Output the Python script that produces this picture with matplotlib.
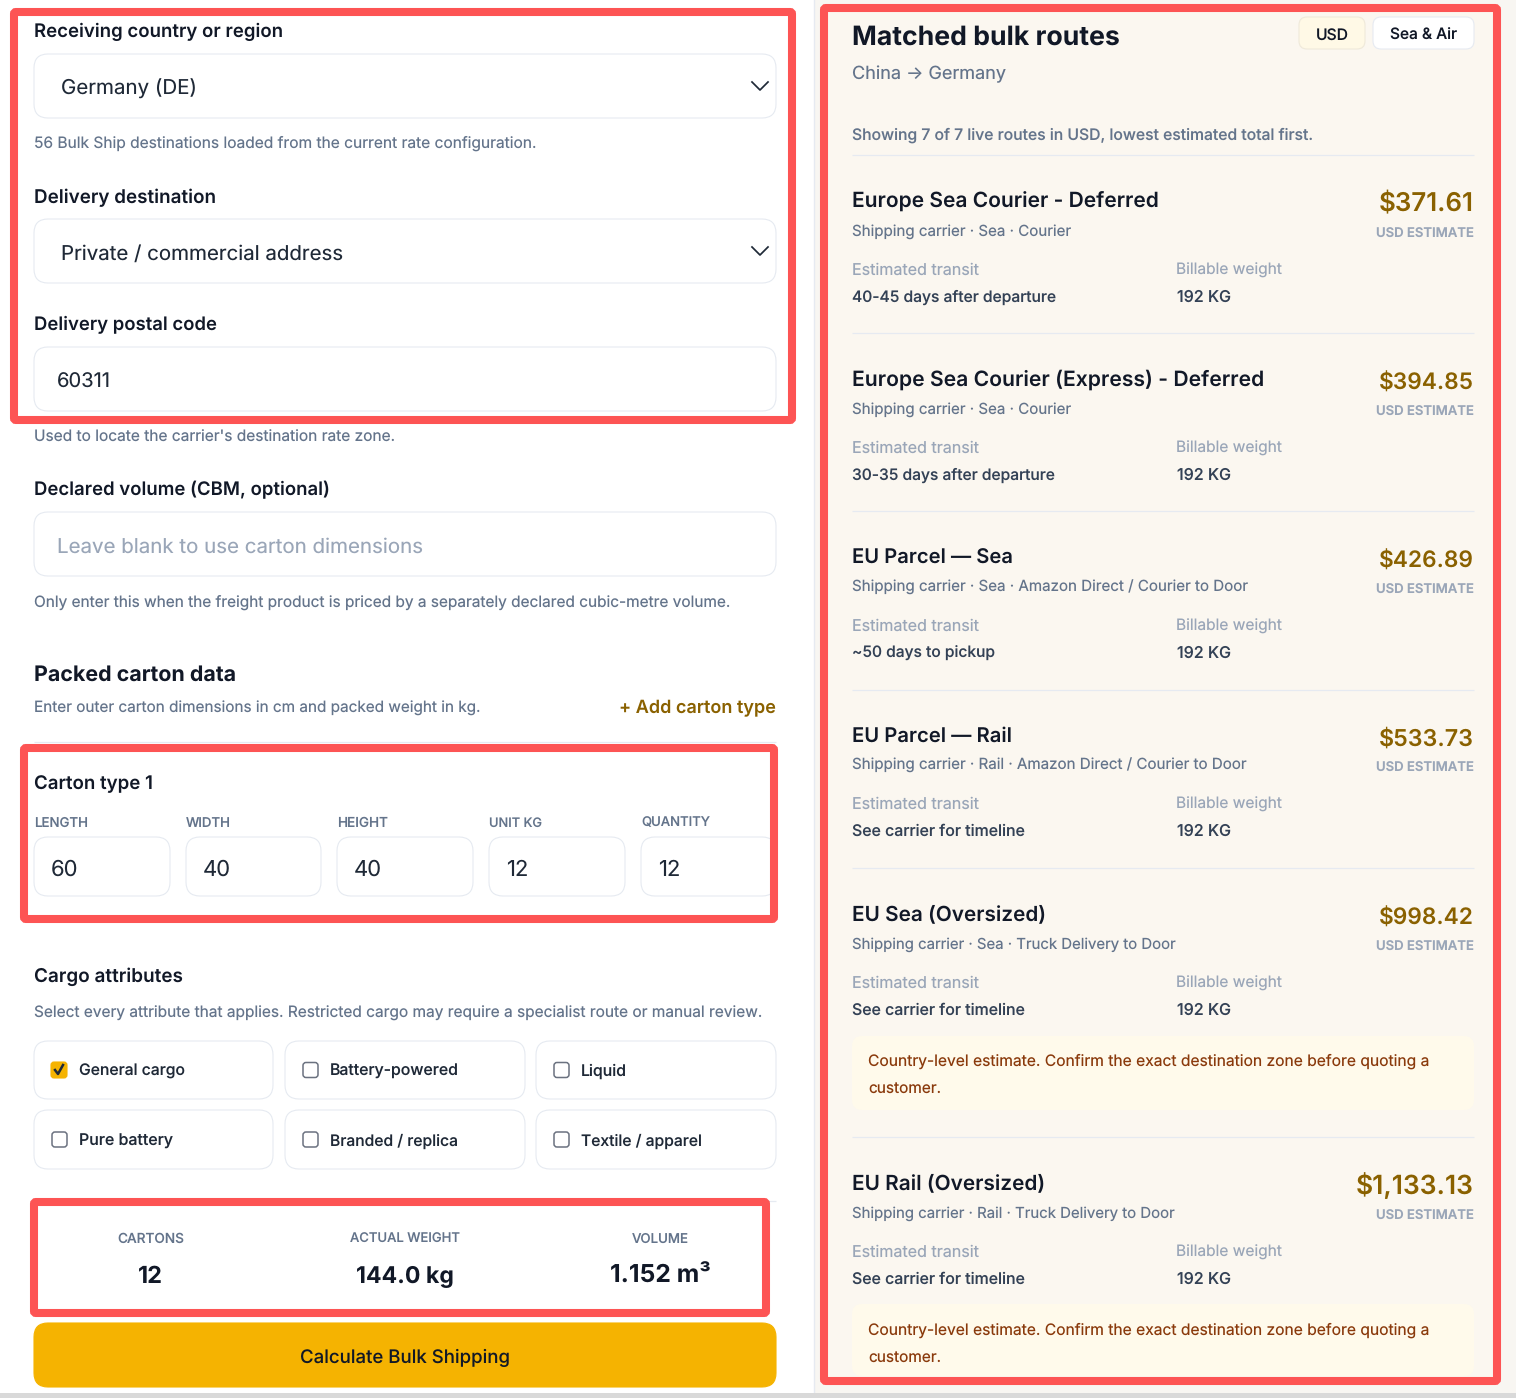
#!/usr/bin/python3
import matplotlib
matplotlib.use("Agg")
import matplotlib.pyplot as plt
from matplotlib.patches import FancyBboxPatch, Rectangle

plt.rcParams['font.family'] = ['Inter', 'DejaVu Sans']
plt.rcParams['text.hinting'] = 'none'

W, H = 1516, 1398

# colours
INK = "#111827"
SLATE = "#64748b"
SOFT = "#9aa6b8"
DARK = "#334155"
LINE = "#e6eaf1"
GOLD = "#8a6100"
RED = "#fd5454"
CREAM = "#fbf7f0"
NOTE_BG = "#fffaeb"
NOTE_FG = "#8a3a0c"

# left form
field_labels = ["Receiving country or region", "Delivery destination", "Delivery postal code"]
field_values = ["Germany (DE)", "Private / commercial address", "60311"]
carton_heads = ["LENGTH", "WIDTH", "HEIGHT", "UNIT KG", "QUANTITY"]
carton_values = ["60", "40", "40", "12", "12"]
attrs = ["General cargo", "Battery-powered", "Liquid", "Pure battery", "Branded / replica", "Textile / apparel"]
attrs_checked = [True, False, False, False, False, False]
stat_heads = ["CARTONS", "ACTUAL WEIGHT", "VOLUME"]
stat_values = ["12", "144.0 kg", "1.152 m³"]

# right routes
route_names = ["Europe Sea Courier - Deferred", "Europe Sea Courier (Express) - Deferred", "EU Parcel — Sea",
               "EU Parcel — Rail", "EU Sea (Oversized)", "EU Rail (Oversized)"]
route_prices = ["$371.61", "$394.85", "$426.89", "$533.73", "$998.42", "$1,133.13"]
route_modes = ["Shipping carrier · Sea · Courier", "Shipping carrier · Sea · Courier",
               "Shipping carrier · Sea · Amazon Direct / Courier to Door",
               "Shipping carrier · Rail · Amazon Direct / Courier to Door",
               "Shipping carrier · Sea · Truck Delivery to Door",
               "Shipping carrier · Rail · Truck Delivery to Door"]
route_transit = ["40-45 days after departure", "30-35 days after departure", "~50 days to pickup",
                 "See carrier for timeline", "See carrier for timeline", "See carrier for timeline"]
route_weight = ["192 KG"] * 6
route_notes = [False, False, False, False, True, True]
note_text = ["Country-level estimate. Confirm the exact destination zone before quoting a", "customer."]

fig = plt.figure(figsize=(W / 100, H / 100), dpi=100)
ax = fig.add_axes([0, 0, 1, 1])
ax.set_xlim(0, W)
ax.set_ylim(H, 0)
ax.axis("off")
renderer = fig.canvas.get_renderer()


def txt(x, y, s, px, color=INK, weight="normal", ha="left", w=None, z=5):
    # px is the css font size, y the baseline, w the width seen in the screenshot
    t = ax.text(x, y + 0.6, s, fontsize=px * 0.72, color=color, fontweight=weight, ha=ha, va="baseline", zorder=z)
    if w:
        t.set_fontsize(px * 0.72 * w / t.get_window_extent(renderer).width)
    return t


def box(x0, y0, x1, y1, r=14, fc="white", ec=LINE, lw=0.8, z=2):
    p = FancyBboxPatch((x0, y0), x1 - x0, y1 - y0, boxstyle="round,pad=0,rounding_size=%g" % r,
                       fc=fc, ec=ec, lw=lw, zorder=z)
    ax.add_patch(p)


def hline(x0, x1, y, color=LINE):
    ax.plot([x0, x1], [y, y], color=color, lw=0.9, zorder=3, solid_capstyle="butt")


def chevron(y):
    ax.plot([752, 760, 768], [y - 4, y + 4, y - 4], color="#1f2937", lw=1.25, zorder=4)


def frame(x0, y0, x1, y1):
    box(x0 + 4, y0 + 4, x1 - 4, y1 - 4, r=2, fc="none", ec=RED, lw=5.8, z=8)


# backgrounds
ax.add_patch(Rectangle((814, 0), W - 814, H, fc="#f8f6f2", ec="none", zorder=0))
ax.add_patch(Rectangle((828, 12), 665, 1365, fc=CREAM, ec="none", zorder=0.5))
ax.plot([814, 814], [0, H], color=LINE, lw=1, zorder=1)
ax.add_patch(Rectangle((0, 1393), W, 5, fc="#d9d9d9", ec="none", zorder=9))

# form fields
field_boxes = [(54, 118), (219, 283), (347, 411)]
field_label_y = [36, 202, 330]
field_value_y = [94, 259, 387]
field_value_x = [61, 61, 57]
field_label_w = [249, 182, 183]
field_value_w = [136, 282, 54]
for i in range(3):
    txt(34, field_label_y[i], field_labels[i], 18, weight=600, w=field_label_w[i])
    box(34, field_boxes[i][0], 776, field_boxes[i][1])
    txt(field_value_x[i], field_value_y[i], field_values[i], 22, color="#1f2937", w=field_value_w[i])
chevron(86)
chevron(251)
txt(34, 147, "56 Bulk Ship destinations loaded from the current rate configuration.", 16, SLATE, w=503)
txt(34, 441, "Used to locate the carrier's destination rate zone.", 16, SLATE, w=361)

txt(34, 495, "Declared volume (CBM, optional)", 18, weight=600, w=296)
box(34, 512, 776, 576)
txt(57, 552, "Leave blank to use carton dimensions", 22, SOFT, w=366)
txt(34, 606, "Only enter this when the freight product is priced by a separately declared cubic-metre volume.", 16, SLATE, w=696)

txt(34, 680, "Packed carton data", 22, weight=700, w=202)
txt(34, 712, "Enter outer carton dimensions in cm and packed weight in kg.", 16, SLATE, w=447)
txt(776, 713, "+ Add carton type", 18, GOLD, weight=600, ha="right", w=157)
hline(34, 776, 742)

# carton row
txt(34, 789, "Carton type 1", 18, weight=600, w=119)
carton_x = [34, 186, 337, 489, 641]
carton_r = [170, 321, 473, 625, 776]
carton_head_w = [54, 45, 51, 53, 69]
for i in range(5):
    txt(carton_x[i], 826, carton_heads[i], 13, SLATE, weight=500, w=carton_head_w[i])
    box(carton_x[i], 837, carton_r[i], 896)
    txt(carton_x[i] + 17, 875, carton_values[i], 22, "#1f2937")

# attributes
txt(34, 981, "Cargo attributes", 18, weight=600, w=149)
txt(34, 1017, "Select every attribute that applies. Restricted cargo may require a specialist route or manual review.", 16, SLATE, w=728)
attr_x = [(34, 273), (285, 525), (536, 776)]
attr_y = [(1041, 1099), (1110, 1169)]
attr_base = [1075, 1145]
attr_w = [106, 129, 46, 94, 128, 121]
for i, name in enumerate(attrs):
    x0, x1 = attr_x[i % 3]
    y0, y1 = attr_y[i // 3]
    box(x0, y0, x1, y1)
    cy = (y0 + y1) / 2
    if attrs_checked[i]:
        box(x0 + 17, cy - 8, x0 + 33, cy + 8, r=3, fc="#f5b301", ec="#f5b301", z=3)
        ax.plot([x0 + 21, x0 + 24, x0 + 29], [cy, cy + 4, cy - 5], color="#1f2937", lw=1.8, zorder=4)
    else:
        box(x0 + 18, cy - 7.5, x0 + 33, cy + 7.5, r=3, fc="white", ec="#6b7280", lw=1.1, z=3)
    txt(x0 + 45, attr_base[i // 3], name, 16.5, "#1f2937", weight=500, w=attr_w[i])

# totals
hline(34, 776, 1201)
stat_x = [150.5, 405, 660]
stat_head_w = [67, 110, 57]
stat_value_w = [25, 98, 101]
for i in range(3):
    txt(stat_x[i], 1242, stat_heads[i], 13, SLATE, weight=500, ha="center", w=stat_head_w[i])
    txt(stat_x[i], 1282, stat_values[i], 25, INK, weight=700, ha="center", w=stat_value_w[i])

box(34, 1323, 776, 1387, r=14, fc="#f5b301", ec="#f5b301")
txt(405, 1362, "Calculate Bulk Shipping", 19, INK, weight=500, ha="center", w=210)

# right panel header
txt(852, 44, "Matched bulk routes", 27, INK, weight=700, w=268)
txt(852, 79, "China → Germany", 19, SLATE, w=154)
box(1299, 17, 1365, 49, r=8, fc="#fff9e6", ec="#efe9da")
txt(1332, 39, "USD", 16, INK, weight=500, ha="center", w=33)
box(1373, 17, 1474, 49, r=8, fc="white", ec=LINE)
txt(1423.5, 39, "Sea & Air", 16, INK, weight=500, ha="center", w=67)
txt(852, 139, "Showing 7 of 7 live routes in USD, lowest estimated total first.", 17, SLATE, weight=500, w=461)
hline(852, 1474, 155)

# cards
card_top = [200, 378, 556, 734, 913, 1182]
card_rule = [333, 511, 690, 868, 1137]
note_box = {4: (1036, 1110), 5: (1304, 1376)}
note_base = {4: (1065, 1092), 5: (1334, 1361)}
name_w = [307, 412, 161, 160, 194, 193]
mode_w = [219, 219, 396, 395, 324, 323]
price_w = [95, 95, 95, 95, 95, 118]
transit_w = [204, 203, 143, 173, 173, 173]
for i in range(6):
    t = card_top[i]
    txt(852, t + 7, route_names[i], 22, INK, weight=600, w=name_w[i])
    txt(852, t + 35, route_modes[i], 16, SLATE, w=mode_w[i])
    txt(1474, t + 11, route_prices[i], 25, GOLD, weight=600, ha="right", w=price_w[i])
    txt(1474, t + 37, "USD ESTIMATE", 13, SOFT, weight=600, ha="right", w=98)
    txt(852, t + 74, "Estimated transit", 16, SOFT, w=127)
    txt(1176, t + 74, "Billable weight", 16, SOFT, w=106)
    txt(852, t + 101, route_transit[i], 16, DARK, weight=500, w=transit_w[i])
    txt(1177, t + 101, route_weight[i], 16, DARK, weight=500, w=54)
    if route_notes[i]:
        y0, y1 = note_box[i]
        box(852, y0, 1474, y1, r=10, fc=NOTE_BG, ec="none")
        txt(868, note_base[i][0], note_text[0], 16.5, NOTE_FG, w=561)
        txt(868, note_base[i][1], note_text[1], 16.5, NOTE_FG, w=73)
for y in card_rule:
    hline(852, 1474, y)

# red highlight frames
frame(10, 8, 796, 424)
frame(20, 744, 778, 923)
frame(30, 1198, 770, 1317)
frame(820, 4, 1501, 1385)

fig.savefig("out.png", dpi=100)
